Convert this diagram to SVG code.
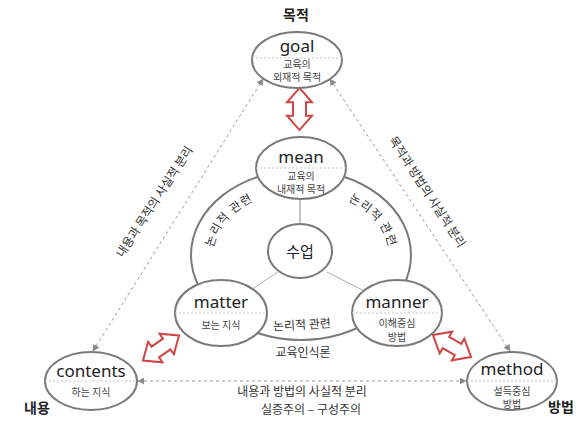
<svg xmlns="http://www.w3.org/2000/svg" xmlns:xlink="http://www.w3.org/1999/xlink" width="583" height="421" viewBox="0 0 583 421">
<style>
.node{fill:#fff;stroke:#7a7a7a;stroke-width:2}
.big{fill:none;stroke:#7a7a7a;stroke-width:2}
.div{stroke:#c8c8c8;stroke-width:1;stroke-dasharray:2,2}
.dash{stroke:#9a9a9a;stroke-width:1;stroke-dasharray:3,3;fill:none}
.thin{stroke:#b0b0b0;stroke-width:1}
.en{font-family:"Noto Sans","Liberation Sans",sans-serif;font-size:17px;fill:#222;text-anchor:middle}
.ko{font-family:"Noto Sans CJK KR","Noto Sans",sans-serif;font-size:10px;fill:#444;text-anchor:middle}
.lbl{font-family:"Noto Sans CJK KR","Noto Sans",sans-serif;font-size:12px;fill:#333;text-anchor:middle}
.bold{font-family:"Noto Sans CJK KR","Noto Sans",sans-serif;font-size:14px;font-weight:bold;fill:#222;text-anchor:middle}
.red{fill:#fff;stroke:#d24545;stroke-width:2;stroke-linejoin:miter}
</style>
<defs>
<marker id="ah" viewBox="0 0 10 10" refX="9" refY="5" markerWidth="7" markerHeight="7" orient="auto-start-reverse" markerUnits="userSpaceOnUse">
<path d="M0,0 L10,5 L0,10 z" fill="#8a8a8a"/>
</marker>
<path id="dbl" d="M-22,0 L-7,-12.5 L-7,-6.5 L7,-6.5 L7,-12.5 L22,0 L7,12.5 L7,6.5 L-7,6.5 L-7,12.5 Z"/>
<path id="arcL" d="M218.3,276.9 A88,64 0 0 1 282.7,192.4"/>
<path id="arcR" d="M319.3,192.4 A88,64 0 0 1 383.7,276.9"/>
</defs>

<g id="connectors">
<line class="dash" x1="93" y1="351" x2="263" y2="79" marker-start="url(#ah)" marker-end="url(#ah)"/>
<line class="dash" x1="330" y1="79" x2="510" y2="351" marker-start="url(#ah)" marker-end="url(#ah)"/>
<line class="dash" x1="138" y1="381" x2="466" y2="381" marker-start="url(#ah)" marker-end="url(#ah)"/>
<ellipse class="big" cx="301" cy="255" rx="110" ry="85"/>
<line class="thin" x1="300" y1="199" x2="300" y2="224" style="stroke:#8a8a8a"/>
<line class="thin" x1="278" y1="272" x2="249" y2="291"/>
<line class="thin" x1="327" y1="272" x2="364" y2="291"/>
<use href="#dbl" class="red" transform="translate(299.5,109) rotate(90) scale(0.96,1)"/>
<use href="#dbl" class="red" transform="translate(161,348) rotate(-35)"/>
<use href="#dbl" class="red" transform="translate(452,346) rotate(30)"/>
<text class="lbl" transform="translate(158,204) rotate(-57)" y="0">내용과 목적의 사실적 분리</text>
<text class="lbl" transform="translate(427,192) rotate(57)" y="4">목적과 방법의 사실적 분리</text>
<text class="lbl" x="302" y="396">내용과 방법의 사실적 분리</text>
<text class="lbl" x="311" y="414">실증주의 – 구성주의</text>
<text class="lbl" style="letter-spacing:1px"><textPath href="#arcL" startOffset="50%">논리적 관련</textPath></text>
<text class="lbl" style="letter-spacing:1px"><textPath href="#arcR" startOffset="50%">논리적 관련</textPath></text>
<text class="lbl" x="302" y="329" transform="rotate(-3 302 325)">논리적 관련</text>
<text class="lbl" x="303" y="357">교육인식론</text>
</g>

<g id="goal">
<text class="bold" x="296" y="20">목적</text>
<ellipse class="node" cx="297" cy="60" rx="45" ry="28"/>
<line class="div" x1="252" y1="58" x2="342" y2="58"/>
<text class="en" x="297" y="52">goal</text>
<text class="ko" x="297" y="68">교육의</text>
<text class="ko" x="297" y="81">외재적 목적</text>
</g>

<g id="mean">
<ellipse class="node" cx="301" cy="168" rx="45" ry="31"/>
<line class="div" x1="256" y1="168" x2="346" y2="168"/>
<text class="en" x="301" y="163">mean</text>
<text class="ko" x="301" y="180">교육의</text>
<text class="ko" x="301" y="193">내재적 목적</text>
</g>

<g id="class">
<ellipse class="node" cx="300" cy="251" rx="32" ry="27"/>
<text class="en" x="300" y="257" style="font-family:'Noto Sans CJK KR',sans-serif;font-size:15px">수업</text>
</g>

<g id="matter">
<ellipse class="node" cx="221" cy="313" rx="46" ry="33"/>
<line class="div" x1="175" y1="313" x2="267" y2="313"/>
<text class="en" x="221" y="308">matter</text>
<text class="ko" x="221" y="329">보는 지식</text>
</g>

<g id="manner">
<ellipse class="node" cx="397" cy="313" rx="45" ry="33"/>
<line class="div" x1="352" y1="313" x2="442" y2="313"/>
<text class="en" x="397" y="308">manner</text>
<text class="ko" x="397" y="327">이해중심</text>
<text class="ko" x="397" y="341">방법</text>
</g>

<g id="contents">
<ellipse class="node" cx="91" cy="381" rx="46" ry="29"/>
<line class="div" x1="45" y1="381" x2="137" y2="381"/>
<text class="en" x="91" y="377">contents</text>
<text class="ko" x="91" y="396">하는 지식</text>
<text class="bold" x="37" y="413">내용</text>
</g>

<g id="method">
<ellipse class="node" cx="512" cy="381" rx="45" ry="29"/>
<line class="div" x1="467" y1="381" x2="557" y2="381"/>
<text class="en" x="512" y="375">method</text>
<text class="ko" x="512" y="395">설득중심</text>
<text class="ko" x="512" y="408">방법</text>
<text class="bold" x="561" y="412">방법</text>
</g>
</svg>
